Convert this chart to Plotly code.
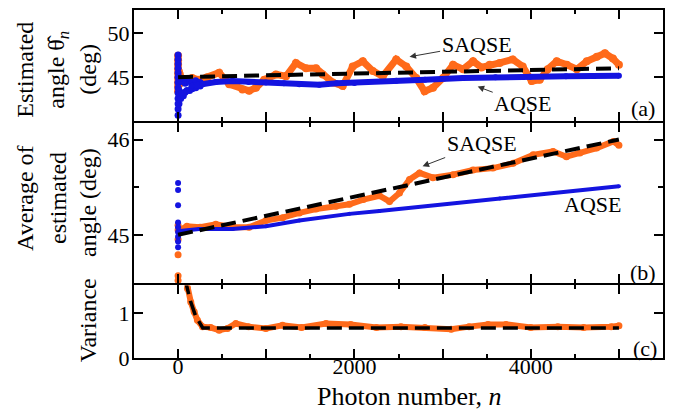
import plotly.graph_objects as go

# ---------------- data ----------------
# panel (a): estimated angle
true_n = [0, 5000]
true_angle = [45.0, 46.0]

a_sa_burst_n = [0, 0, 0, 0, 0, 0, 0, 0, 0, 10, 10, 20, 20]
a_sa_burst = [47.4, 46.9, 46.4, 45.9, 45.4, 44.9, 44.4, 43.9, 43.4, 45.6, 44.2, 45.3, 44.3]
a_sa_n = [20, 87, 160, 239, 330, 466, 580, 730, 806, 883, 977, 1110, 1224, 1337, 1451,
          1565, 1640, 1754, 1867, 1981, 2095, 2208, 2322, 2474, 2588, 2701, 2796, 2891,
          3005, 3119, 3232, 3346, 3440, 3534, 3648, 3795, 3909, 4011, 4102, 4193, 4295,
          4409, 4523, 4636, 4750, 4841, 4932, 5000]
a_sa = [45.0, 44.6, 44.9, 44.7, 45.0, 45.5, 44.2, 43.6, 43.45, 43.8, 44.7, 45.3, 45.1,
        46.6, 46.0, 46.0, 45.3, 44.4, 44.0, 46.2, 46.8, 45.7, 45.1, 47.0, 46.2, 44.9,
        43.4, 43.8, 44.9, 46.4, 45.9, 46.8, 46.1, 46.4, 46.6, 47.0, 46.2, 44.55, 44.7,
        45.9, 46.8, 46.4, 45.9, 46.8, 47.3, 47.7, 47.1, 46.4]

a_aq_burst_n = [0, 0, 0, 0, 0, 0, 0, 0, 0, 0, 0, 0, 0, 10, 10, 10, 20, 20, 30, 30, 45, 45,
                60, 60, 80, 80, 100, 100, 130, 130, 160, 160, 200, 200, 250, 250]
a_aq_burst = [47.5, 47.0, 46.5, 46.0, 45.5, 45.0, 44.4, 43.8, 43.2, 42.6, 42.0, 41.4, 40.7,
              45.0, 43.5, 42.0, 44.8, 43.0, 44.6, 42.6, 44.5, 43.2, 44.8, 42.9, 44.3, 43.3,
              44.6, 43.5, 44.5, 43.5, 44.4, 43.7, 44.6, 43.8, 44.4, 44.0]
a_aq_n = [150, 277, 428, 617, 800, 996, 1200, 1375, 1602, 1800, 2000, 2475, 2800, 3230,
          3600, 3990, 4400, 5000]
a_aq = [44.0, 44.2, 44.45, 44.55, 44.45, 44.4, 44.3, 44.2, 44.15, 44.3, 44.35, 44.6,
        44.7, 44.9, 45.0, 45.05, 45.1, 45.15]

# panel (b): average of estimated angle
b_sa_burst_n = [0, 0, 0, 0, 0, 0]
b_sa_burst = [44.52, 44.57, 44.79, 44.95, 45.05, 45.1]
b_sa_n = [15, 100, 250, 428, 620, 806, 996, 1185, 1375, 1565, 1792, 1943, 2100, 2284,
          2398, 2511, 2625, 2739, 2890, 3117, 3345, 3572, 3800, 4027, 4254, 4405, 4557,
          4747, 4937, 5000]
b_sa = [45.05, 45.09, 45.08, 45.11, 45.08, 45.08, 45.15, 45.18, 45.23, 45.27, 45.30,
        45.32, 45.37, 45.41, 45.35, 45.44, 45.58, 45.65, 45.60, 45.63, 45.68, 45.70,
        45.75, 45.84, 45.875, 45.82, 45.86, 45.91, 45.98, 45.94]

b_aq_burst_n = [0, 0, 0, 0, 0, 0, 0, 0, 0]
b_aq_burst = [45.545, 45.47, 45.31, 45.13, 45.08, 45.03, 44.98, 44.93, 44.87]
b_aq_n = [20, 239, 617, 996, 1375, 1943, 2284, 3648, 5000]
b_aq = [45.04, 45.06, 45.06, 45.09, 45.15, 45.22, 45.25, 45.38, 45.51]

# panel (c): variance
c_var_n = [90, 106, 144, 182, 220, 277, 370, 466, 560, 655, 800, 996, 1185, 1400, 1678,
           1958, 2250, 2528, 2800, 3098, 3300, 3515, 3720, 4000, 4307, 4600, 4912, 5000]
c_var = [1.75, 1.55, 1.25, 1.03, 0.84, 0.70, 0.68, 0.62, 0.66, 0.77, 0.70, 0.66, 0.73,
         0.68, 0.77, 0.75, 0.68, 0.70, 0.68, 0.64, 0.70, 0.75, 0.75, 0.68, 0.70, 0.68,
         0.70, 0.72]
c_ideal_n = [80, 140, 200, 280, 5000]
c_ideal = [1.75, 1.27, 0.93, 0.67, 0.67]

# ---------------- styling ----------------
ORANGE = "#FF6A1A"
BLUE = "#1414E0"
FONT = "Liberation Serif, Times New Roman, serif"

fig = go.Figure()


def band(xs, ys, color, width, size, xa, ya, mode="lines+markers"):
    fig.add_trace(go.Scatter(x=xs, y=ys, mode=mode, xaxis=xa, yaxis=ya,
                             line=dict(color=color, width=width),
                             marker=dict(color=color, size=size),
                             showlegend=False, hoverinfo="skip"))


def dashed(xs, ys, width, xa, ya):
    fig.add_trace(go.Scatter(x=xs, y=ys, mode="lines", xaxis=xa, yaxis=ya,
                             line=dict(color="black", width=width, dash="15px,7px"),
                             showlegend=False, hoverinfo="skip"))


# panel (a) -> x3/y3
band(a_sa_burst_n, a_sa_burst, ORANGE, 0, 8, "x3", "y3", mode="markers")
band(a_sa_n, a_sa, ORANGE, 7, 8, "x3", "y3")
band(a_aq_burst_n, a_aq_burst, BLUE, 0, 7, "x3", "y3", mode="markers")
band(a_aq_n, a_aq, BLUE, 6, 6, "x3", "y3")
dashed(true_n, true_angle, 4, "x3", "y3")

# panel (b) -> x2/y2
band(b_sa_burst_n, b_sa_burst, ORANGE, 0, 7, "x2", "y2", mode="markers")
band(b_sa_n, b_sa, ORANGE, 6, 7, "x2", "y2")
band(b_aq_burst_n, b_aq_burst, BLUE, 0, 6, "x2", "y2", mode="markers")
band(b_aq_n, b_aq, BLUE, 4, 4, "x2", "y2")
dashed(true_n, true_angle, 4, "x2", "y2")

# panel (c) -> x/y
band(c_var_n, c_var, ORANGE, 6, 7, "x", "y")
dashed(c_ideal_n, c_ideal, 3.5, "x", "y")

axis_common = dict(showline=True, linecolor="black", linewidth=2, mirror="allticks",
                   ticks="inside", tickcolor="black", tickwidth=1.5, showgrid=False,
                   zeroline=False, tickfont=dict(family=FONT, size=22, color="black"))

xcommon = dict(axis_common, range=[-500, 5500], tickmode="linear", tick0=0, dtick=1000,
               ticklabelstep=2, ticklen=9, ticklabelstandoff=-12,
               minor=dict(tickmode="linear", tick0=0, dtick=500, ticklen=4,
                          ticks="inside", tickcolor="black", tickwidth=1.5))
ycommon = dict(axis_common, ticklen=9, ticklabelstandoff=-2)

# page body adds an 8px offset; the figure is sized so that the plot lands where
# the reference has it
fig.update_layout(
    width=669, height=404,
    margin=dict(l=126, r=14, t=0, b=54),
    paper_bgcolor="white", plot_bgcolor="white",
    font=dict(family=FONT, color="black"),
    xaxis=dict(xcommon, anchor="y", showticklabels=True),
    xaxis2=dict(xcommon, anchor="y2", matches="x", showticklabels=False),
    xaxis3=dict(xcommon, anchor="y3", matches="x", showticklabels=False),
    yaxis=dict(ycommon, domain=[0, 0.2086], range=[0, 1.62], tickmode="array",
               tickvals=[0, 1]),
    yaxis2=dict(ycommon, domain=[0.2143, 0.6743], range=[44.49, 46.17],
                tickmode="array", tickvals=[45, 46],
                minor=dict(tickmode="array", tickvals=[45.5], ticklen=5,
                           ticks="inside", tickcolor="black", tickwidth=1.5)),
    yaxis3=dict(ycommon, domain=[0.6814, 1.0], range=[40.06, 52.58],
                tickmode="array", tickvals=[45, 50]),
)

ann = []
TF = dict(family=FONT, size=24, color="black")


def px_x(px):
    return (px - 134) / 529


def px_y(py):
    return (358 - py) / 350


# y-axis titles (rotated)
for txt, xp, yp in [("Estimated", 25, 68), ("angle θ̂<sub><i>n</i></sub>", 58, 68),
                    ("(deg)", 88, 68), ("Average of", 25, 197), ("estimated", 58, 197),
                    ("angle (deg)", 88, 202), ("Variance", 88, 320)]:
    ann.append(dict(text=txt, x=px_x(xp), y=px_y(yp), xref="paper", yref="paper",
                    xanchor="center", yanchor="middle", textangle=-90, showarrow=False,
                    font=TF))

# x-axis title
ann.append(dict(text="Photon number, <i>n</i>", x=px_x(409), y=px_y(397), xref="paper",
                yref="paper", xanchor="center", yanchor="middle", showarrow=False,
                font=dict(family=FONT, size=26, color="black")))

# panel letters
LF = dict(family=FONT, size=22, color="black")
for txt, xp, yp in [("(a)", 643, 107), ("(b)", 643, 272), ("(c)", 645, 348)]:
    ann.append(dict(text=txt, x=px_x(xp), y=px_y(yp), xref="paper", yref="paper",
                    xanchor="center", yanchor="middle", showarrow=False, font=LF))

# series labels with arrows
arrow = dict(showarrow=True, arrowhead=2, arrowsize=1.3, arrowwidth=1,
             arrowcolor="#333333", font=LF)
ann.append(dict(arrow, text="SAQSE", xref="x3", yref="y3", axref="x3", ayref="y3",
                x=2625, y=47.3, ax=3386, ay=48.65))
ann.append(dict(arrow, text="AQSE", xref="x3", yref="y3", axref="x3", ayref="y3",
                x=3398, y=43.93, ax=3909, ay=42.02))
ann.append(dict(arrow, text="SAQSE", xref="x2", yref="y2", axref="x2", ayref="y2",
                x=2773, y=45.72, ax=3443, ay=45.958))
ann.append(dict(text="AQSE", xref="x2", yref="y2", x=4705, y=45.323, showarrow=False,
                font=LF))

fig.update_layout(annotations=ann)
fig.write_html("out.html")
